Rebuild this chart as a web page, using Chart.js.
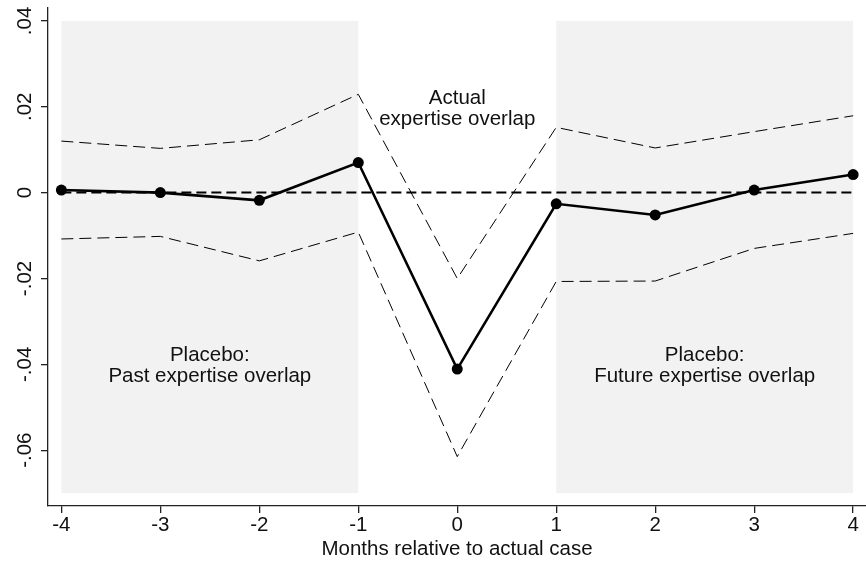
<!DOCTYPE html>
<html>
<head>
<meta charset="utf-8">
<script src="https://cdn.jsdelivr.net/npm/chart.js@4"></script>
<style>
  html, body { margin: 0; padding: 0; background: #ffffff; }
  canvas { display: block; }
</style>
</head>
<body>
<canvas id="chart" width="866" height="565"></canvas>
<script>
// Event-study estimates by month relative to the actual case
const months = [-4, -3, -2, -1, 0, 1, 2, 3, 4];
const estimate = [0.0006, 0.0000, -0.0018, 0.0070, -0.0411, -0.0026, -0.0052, 0.0006, 0.0042];
const ciUpper = [0.0120, 0.0103, 0.0123, 0.0229, -0.0200, 0.0152, 0.0104, 0.0142, 0.0179];
const ciLower = [-0.0108, -0.0102, -0.0159, -0.0092, -0.0615, -0.0207, -0.0206, -0.0130, -0.0095];

// Axis ticks
const xTickValues = [-4, -3, -2, -1, 0, 1, 2, 3, 4];
const yTickValues = [0.04, 0.02, 0, -0.02, -0.04, -0.06];
const yTickLabels = ['.04', '.02', '0', '-.02', '-.04', '-.06'];
const xTitle = 'Months relative to actual case';

// Placebo windows (month ranges) and the vertical extent of their shading
const placeboWindows = [[-4, -1], [1, 4]];
const shadeBand = [-0.07, 0.04];

// Region captions, anchored in data units
const captions = [
  { lines: ['Actual', 'expertise overlap'], x: 0, y: 0.0207 },
  { lines: ['Placebo:', 'Past expertise overlap'], x: -2.5, y: -0.0392 },
  { lines: ['Placebo:', 'Future expertise overlap'], x: 2.5, y: -0.0392 }
];

const FONT = "'Liberation Sans', Arial, Helvetica, sans-serif";
const FONT_SIZE = 20.5;
const INK = '#111111';

Chart.defaults.font.family = FONT;
Chart.defaults.font.size = FONT_SIZE;
Chart.defaults.color = INK;

const toPoints = (ys) => months.map((m, i) => ({ x: m, y: ys[i] }));

const shadePlugin = {
  id: 'placeboShade',
  beforeDatasetsDraw(chart) {
    const { ctx, scales: { x, y } } = chart;
    ctx.save();
    ctx.fillStyle = '#f2f2f2';
    const top = y.getPixelForValue(shadeBand[1]);
    const bottom = y.getPixelForValue(shadeBand[0]);
    placeboWindows.forEach(([a, b]) => {
      const left = x.getPixelForValue(a);
      const right = x.getPixelForValue(b);
      ctx.fillRect(left, top, right - left, bottom - top);
    });
    ctx.restore();
  }
};

const captionPlugin = {
  id: 'regionCaptions',
  afterDatasetsDraw(chart) {
    const { ctx, scales: { x, y } } = chart;
    ctx.save();
    ctx.fillStyle = INK;
    ctx.font = FONT_SIZE + 'px ' + FONT;
    ctx.textAlign = 'center';
    ctx.textBaseline = 'alphabetic';
    captions.forEach(c => {
      const px = x.getPixelForValue(c.x);
      const py = y.getPixelForValue(c.y);
      c.lines.forEach((line, k) => ctx.fillText(line, px, py + k * 21));
    });
    ctx.restore();
  }
};

new Chart(document.getElementById('chart'), {
  type: 'line',
  data: {
    datasets: [
      {
        label: 'Estimate',
        data: toPoints(estimate),
        borderColor: '#000000',
        borderWidth: 2.6,
        pointRadius: 5.5,
        pointBackgroundColor: '#000000',
        pointBorderWidth: 0,
        tension: 0
      },
      {
        label: 'Zero',
        data: [{ x: months[0], y: 0 }, { x: months[months.length - 1], y: 0 }],
        borderColor: '#000000',
        borderWidth: 2,
        borderDash: [10, 5],
        pointRadius: 0,
        tension: 0
      },
      {
        label: 'Upper bound',
        data: toPoints(ciUpper),
        borderColor: '#000000',
        borderWidth: 1,
        borderDash: [12, 6],
        pointRadius: 0,
        tension: 0
      },
      {
        label: 'Lower bound',
        data: toPoints(ciLower),
        borderColor: '#000000',
        borderWidth: 1,
        borderDash: [12, 6],
        pointRadius: 0,
        tension: 0
      }
    ]
  },
  options: {
    responsive: false,
    animation: false,
    layout: { autoPadding: false, padding: { top: 8, right: 0, bottom: 0, left: 0 } },
    plugins: {
      legend: { display: false },
      tooltip: { enabled: false }
    },
    scales: {
      x: {
        type: 'linear',
        min: -4.135,
        max: 4.13,
        afterBuildTicks: (s) => { s.ticks = xTickValues.map(v => ({ value: v })); },
        afterFit: (s) => { s.height = 59; s.paddingLeft = 0; s.paddingRight = 0; },
        grid: { drawOnChartArea: false, drawTicks: true, tickLength: 7, color: '#222222', lineWidth: 1.3 },
        border: { display: true, color: '#222222', width: 1.3 },
        ticks: {
          autoSkip: false,
          maxRotation: 0,
          padding: 0,
          color: INK,
          callback: (v) => String(v)
        },
        title: {
          display: true,
          text: xTitle,
          color: INK,
          font: { size: FONT_SIZE },
          padding: { top: 0, bottom: 3 }
        }
      },
      y: {
        type: 'linear',
        min: -0.073,
        max: 0.0430,
        afterBuildTicks: (s) => { s.ticks = yTickValues.map(v => ({ value: v })); },
        afterFit: (s) => { s.width = 48; s.paddingTop = 0; s.paddingBottom = 0; },
        grid: { drawOnChartArea: false, drawTicks: true, tickLength: 7, color: '#222222', lineWidth: 1.3 },
        border: { display: true, color: '#222222', width: 1.3 },
        ticks: {
          autoSkip: false,
          minRotation: 90,
          maxRotation: 90,
          crossAlign: 'center',
          padding: -2,
          color: INK,
          callback: (v) => {
            const i = yTickValues.findIndex(t => Math.abs(t - v) < 1e-9);
            return i >= 0 ? yTickLabels[i] : '';
          }
        }
      }
    }
  },
  plugins: [shadePlugin, captionPlugin]
});
</script>
</body>
</html>
